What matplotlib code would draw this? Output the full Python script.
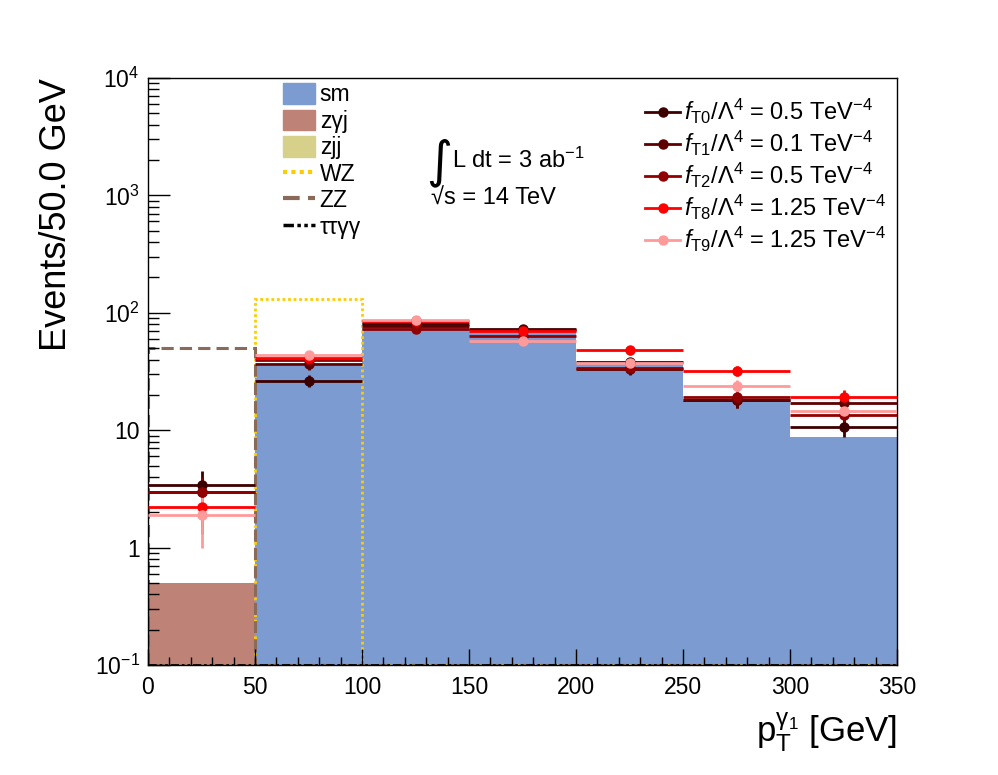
import numpy as np
import matplotlib
matplotlib.use("Agg")
import matplotlib.pyplot as plt
from matplotlib.patches import Patch
from matplotlib.lines import Line2D
from matplotlib.ticker import FixedLocator, FixedFormatter, MultipleLocator

plt.rcParams['font.family'] = ['Liberation Sans', 'DejaVu Sans']
plt.rcParams['mathtext.fontset'] = 'custom'
plt.rcParams['mathtext.rm'] = 'Liberation Sans'
plt.rcParams['mathtext.it'] = 'Liberation Sans:italic'
plt.rcParams['mathtext.bf'] = 'Liberation Sans:bold'

# binning of leading photon pT
edges = np.arange(0, 351, 50)
centers = 0.5 * (edges[:-1] + edges[1:])

# backgrounds (events per bin)
sm = [0, 35, 84, 69, 36.5, 17.6, 8.8]
zgj = [0.5, 0, 0, 0, 0, 0, 0]
zjj = [0, 0, 0, 0, 0, 0, 0]
wz = [0, 131, 0, 0, 0, 0, 0]
zz = [50, 0, 0, 0, 0, 0, 0]
ttgg = [0, 0, 0, 0, 0, 0, 0]

# aQGC signals
sig_t0 = [3.4, 26.4, 80, 73, 38, 18, 10.7]
sig_t1 = [3.0, 36.4, 77, 71, 33, 18, 17.2]
sig_t2 = [3.0, 39.6, 73, 63, 34, 19.3, 13.6]
sig_t8 = [2.2, 40.9, 85.5, 70, 48, 32.1, 19.3]
sig_t9 = [1.9, 43.7, 87, 58, 37, 24, 14.7]
err_t0 = [1.1, 3.0, 5.3, 5.0, 3.6, 2.5, 1.9]
err_t1 = [1.0, 3.6, 5.2, 5.0, 3.4, 2.5, 2.5]
err_t2 = [1.0, 3.7, 5.1, 4.7, 3.4, 2.6, 2.2]
err_t8 = [0.9, 3.8, 5.5, 5.0, 4.1, 3.4, 2.6]
err_t9 = [0.9, 3.9, 5.5, 4.5, 3.6, 2.9, 2.3]

sig_labels = [r'$f_{\mathrm{T0}}/\Lambda^{4}$ = 0.5 TeV$^{-4}$',
              r'$f_{\mathrm{T1}}/\Lambda^{4}$ = 0.1 TeV$^{-4}$',
              r'$f_{\mathrm{T2}}/\Lambda^{4}$ = 0.5 TeV$^{-4}$',
              r'$f_{\mathrm{T8}}/\Lambda^{4}$ = 1.25 TeV$^{-4}$',
              r'$f_{\mathrm{T9}}/\Lambda^{4}$ = 1.25 TeV$^{-4}$']
sig_colors = ['#3d0000', '#5e0000', '#900000', '#ff0000', '#ff9a9a']

c_sm = '#7b9bd1'
c_zgj = '#bf8276'
c_zjj = '#d6d08a'
c_wz = '#ffcc00'
c_zz = '#8a6a58'

ymin, ymax = 0.1, 1e4

fig = plt.figure(figsize=(9.98, 7.75), dpi=100)
ax = fig.add_axes([148/998, 110/775, 749/998, 587/775])
ax.set_yscale('log')

ax.stairs(sm, edges, fill=True, color=c_sm, baseline=1e-5)
ax.stairs(zgj, edges, fill=True, color=c_zgj, baseline=1e-5)
ax.stairs(zjj, edges, fill=True, color=c_zjj, baseline=1e-5)
ax.stairs(np.clip(wz, ymin, None), edges, color=c_wz, lw=2, ls=(0, (1, 1)), baseline=ymin)
ax.stairs(np.clip(zz, ymin, None), edges, color=c_zz, lw=2.2, ls=(0, (4, 2)), baseline=ymin)
ax.stairs(np.clip(ttgg, ymin, None), edges, color='black', lw=2, ls=(0, (3, 1, 1, 1, 1, 1)), baseline=ymin)

signals = [(sig_t0, err_t0), (sig_t1, err_t1), (sig_t2, err_t2), (sig_t8, err_t8), (sig_t9, err_t9)]
for (vals, errs), col in zip(signals, sig_colors):
    ax.errorbar(centers, vals, xerr=25, yerr=errs, fmt='o', color=col, ms=6.5,
                elinewidth=2, capsize=0, zorder=5)

ax.set_xlim(0, 350)
ax.set_ylim(ymin, ymax)

ax.yaxis.set_major_locator(FixedLocator([0.1, 1, 10, 100, 1000, 10000]))
ax.yaxis.set_major_formatter(FixedFormatter([r'$10^{-1}$', '1', '10', r'$10^{2}$', r'$10^{3}$', r'$10^{4}$']))
ax.yaxis.set_minor_locator(matplotlib.ticker.LogLocator(base=10, subs=np.arange(2, 10)))
ax.yaxis.set_minor_formatter(matplotlib.ticker.NullFormatter())
ax.xaxis.set_major_locator(MultipleLocator(50))
ax.xaxis.set_minor_locator(MultipleLocator(10))
ax.tick_params(which='both', direction='in', top=False, right=False, labelsize=16.5, width=1)
ax.tick_params(axis='y', which='major', length=16, pad=6)
ax.tick_params(axis='y', which='minor', length=8)
ax.tick_params(axis='x', which='major', length=11.5, pad=8)
ax.tick_params(axis='x', which='minor', length=6)
for sp in ax.spines.values():
    sp.set_linewidth(1)

fig.text(56/998, 1 - 78/775, 'Events/50.0 GeV', rotation=90, ha='center', va='top', fontsize=26)
fig.text(897/998, 1 - 742/775, r'$\mathrm{p}_{\mathrm{T}}^{\mathrm{\gamma}_{1}}$ [GeV]', ha='right', va='baseline', fontsize=25)

# luminosity and energy
fig.text(426/998, 1 - 176/775, '\u222b', family='DejaVu Sans', fontsize=36, ha='left', va='baseline')
fig.text(452/998, 1 - 168/775, r'L dt = 3 ab$^{-1}$', fontsize=17, ha='left', va='baseline')
fig.text(431/998, 1 - 205/775, '\u221as = 14 TeV', fontsize=17, ha='left', va='baseline')

bkg_handles = [Patch(facecolor=c_sm, edgecolor=c_sm),
               Patch(facecolor=c_zgj, edgecolor=c_zgj),
               Patch(facecolor=c_zjj, edgecolor=c_zjj),
               Line2D([], [], color=c_wz, lw=3, ls=(0, (1, 1))),
               Line2D([], [], color=c_zz, lw=3, ls=(0, (4, 2))),
               Line2D([], [], color='black', lw=2.5, ls=(0, (3, 1, 1, 1, 1, 1)))]
bkg_labels = ['sm', 'z\u03b3j', 'zjj', 'WZ', 'ZZ', '\u03c4\u03c4\u03b3\u03b3']
leg1 = ax.legend(bkg_handles, bkg_labels, loc='upper left',
                 bbox_to_anchor=((283-148)/749, (665-83)/587), frameon=False,
                 fontsize=16.5, borderpad=0, borderaxespad=0, handlelength=1.4,
                 handleheight=1.0, handletextpad=0.2, labelspacing=0.15)
ax.add_artist(leg1)

sig_handles = [Line2D([], [], color=c, lw=2, marker='o', ms=6.5) for c in sig_colors]
ax.legend(sig_handles, sig_labels, loc='upper left',
          bbox_to_anchor=((645-148)/749, (665-97)/587), frameon=False,
          fontsize=17, borderpad=0, borderaxespad=0, handlelength=1.5,
          handletextpad=0.15, labelspacing=0.12)

fig.savefig('out.png', dpi=100)
